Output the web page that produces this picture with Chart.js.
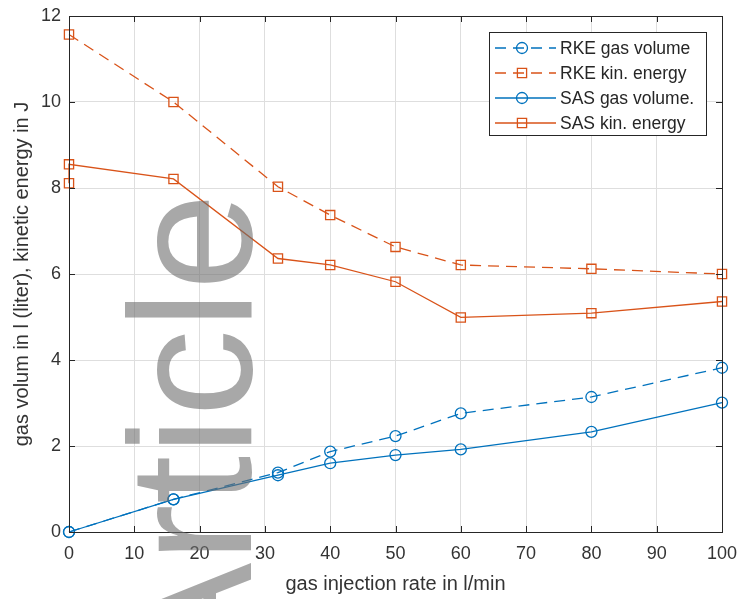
<!DOCTYPE html>
<html>
<head>
<meta charset="utf-8">
<script src="https://cdn.jsdelivr.net/npm/chart.js@4.4.0/dist/chart.umd.min.js"></script>
<style>
  html, body { margin: 0; padding: 0; background: #fff; }
  #wrap { width: 740px; height: 599px; }
</style>
</head>
<body>
<div id="wrap"><canvas id="gasChart" width="740" height="599"></canvas></div>
<script>
// datos
const rates = [0, 16, 32, 40, 50, 60, 80, 100];
const rkeVolume = [0, 0.76, 1.38, 1.87, 2.23, 2.76, 3.14, 3.82];
const rkeEnergy = [11.57, 10.0, 8.03, 7.37, 6.63, 6.21, 6.12, 6.0];
const sasVolume = [0, 0.76, 1.32, 1.60, 1.79, 1.92, 2.33, 3.01];
const sasEnergyRates = [0, 0, 16, 32, 40, 50, 60, 80, 100];
const sasEnergy = [8.11, 8.55, 8.21, 6.36, 6.21, 5.82, 4.99, 5.09, 5.36];
const xTicks = [0, 10, 20, 30, 40, 50, 60, 70, 80, 90, 100];
const yTicks = [0, 2, 4, 6, 8, 10, 12];
const seriesLabels = ['RKE gas volume', 'RKE kin. energy', 'SAS gas volume.', 'SAS kin. energy'];

const BLUE = '#0072BD';
const ORANGE = '#D95319';
const AXIS = '#262626';
const FONT = "'Liberation Sans', Arial, sans-serif";

const toPoints = (xs, ys) => xs.map((x, i) => ({ x: x, y: ys[i] }));

function series(label, xs, ys, color, dashed, marker) {
    return {
        label: label,
        data: toPoints(xs, ys),
        showLine: true,
        borderColor: color,
        borderWidth: 1.3,
        borderDash: dashed ? [11, 7] : [],
        pointStyle: marker,
        pointRadius: marker === 'rect' ? 6.5 : 5.5,
        pointBorderWidth: 1.3,
        pointBorderColor: color,
        pointBackgroundColor: 'rgba(0,0,0,0)',
        clip: false
    };
}

// caja, marcas interiores, leyenda y marca de agua
const boxPlugin = {
    id: 'boxPlugin',
    afterDatasetsDraw(chart) {
        const { ctx, chartArea: a, scales } = chart;
        ctx.save();
        ctx.strokeStyle = AXIS;
        ctx.lineWidth = 1;
        ctx.setLineDash([]);
        ctx.strokeRect(a.left + 0.5, a.top + 0.5, a.right - a.left, a.bottom - a.top);
        ctx.beginPath();
        xTicks.forEach(v => {
            const x = Math.round(scales.x.getPixelForValue(v)) + 0.5;
            ctx.moveTo(x, a.bottom); ctx.lineTo(x, a.bottom - 6);
            ctx.moveTo(x, a.top); ctx.lineTo(x, a.top + 6);
        });
        yTicks.forEach(v => {
            const y = Math.round(scales.y.getPixelForValue(v)) + 0.5;
            ctx.moveTo(a.left, y); ctx.lineTo(a.left + 6, y);
            ctx.moveTo(a.right, y); ctx.lineTo(a.right - 6, y);
        });
        ctx.stroke();

        // leyenda
        const lx = 489, ly = 32, lw = 217, lh = 103;
        ctx.fillStyle = '#fff';
        ctx.fillRect(lx, ly, lw, lh);
        ctx.strokeStyle = AXIS;
        ctx.strokeRect(lx + 0.5, ly + 0.5, lw, lh);
        ctx.font = '17.5px ' + FONT;
        ctx.textBaseline = 'middle';
        chart.data.datasets.forEach((ds, i) => {
            const y = 48 + i * 25;
            ctx.strokeStyle = ds.borderColor;
            ctx.lineWidth = ds.borderWidth;
            ctx.setLineDash(ds.borderDash);
            ctx.beginPath();
            ctx.moveTo(495, y); ctx.lineTo(556, y);
            ctx.stroke();
            ctx.setLineDash([]);
            ctx.fillStyle = 'rgba(0,0,0,0)';
            Chart.helpers.drawPoint(ctx, {
                pointStyle: ds.pointStyle, radius: ds.pointRadius,
                rotation: 0, borderWidth: ds.pointBorderWidth
            }, 522, y);
            ctx.fillStyle = AXIS;
            ctx.fillText(ds.label, 560, y + 1);
        });
        ctx.restore();
    },
    afterDraw(chart) {
        const ctx = chart.ctx;
        ctx.save();
        ctx.translate(251, 193);
        ctx.rotate(-Math.PI / 2);
        ctx.font = '175px ' + FONT;
        ctx.textAlign = 'right';
        ctx.textBaseline = 'alphabetic';
        ctx.fillStyle = 'rgba(110,110,110,0.6)';
        ctx.fillText('Article', 0, 0);
        ctx.restore();
    }
};

const ctx = document.getElementById('gasChart').getContext('2d');

const gasChart = new Chart(ctx, {
    type: 'scatter',
    data: {
        datasets: [
            series(seriesLabels[0], rates, rkeVolume, BLUE, true, 'circle'),
            series(seriesLabels[1], rates, rkeEnergy, ORANGE, true, 'rect'),
            series(seriesLabels[2], rates, sasVolume, BLUE, false, 'circle'),
            series(seriesLabels[3], sasEnergyRates, sasEnergy, ORANGE, false, 'rect')
        ]
    },
    options: {
        responsive: false,
        animation: false,
        layout: { padding: { top: 16, right: 18, bottom: 0, left: 0 } },
        plugins: {
            legend: { display: false },
            tooltip: { enabled: false }
        },
        scales: {
            x: {
                type: 'linear',
                min: 0, max: 100,
                afterFit: s => { s.height = 67; s.paddingLeft = 0; s.paddingRight = 0; },
                afterBuildTicks: s => { s.ticks = xTicks.map(v => ({ value: v })); },
                grid: { color: '#dedede', drawTicks: false },
                border: { color: AXIS },
                ticks: { color: '#333', padding: 11, maxRotation: 0, font: { family: FONT, size: 18 } },
                title: {
                    display: true, text: 'gas injection rate in l/min', color: '#333',
                    font: { family: FONT, size: 20 }, padding: { top: 0, bottom: 3 }
                }
            },
            y: {
                type: 'linear',
                min: 0, max: 12,
                afterFit: s => { s.width = 69; s.paddingTop = 0; s.paddingBottom = 0; },
                afterBuildTicks: s => { s.ticks = yTicks.map(v => ({ value: v })); },
                grid: { color: '#dedede', drawTicks: false },
                border: { color: AXIS },
                ticks: { color: '#333', padding: 8, font: { family: FONT, size: 18 } },
                title: {
                    display: true, text: 'gas volum in l (liter), kinetic energy in J', color: '#333',
                    font: { family: FONT, size: 20 }, padding: { top: 10, bottom: 0 }
                }
            }
        }
    },
    plugins: [boxPlugin]
});
</script>
</body>
</html>
